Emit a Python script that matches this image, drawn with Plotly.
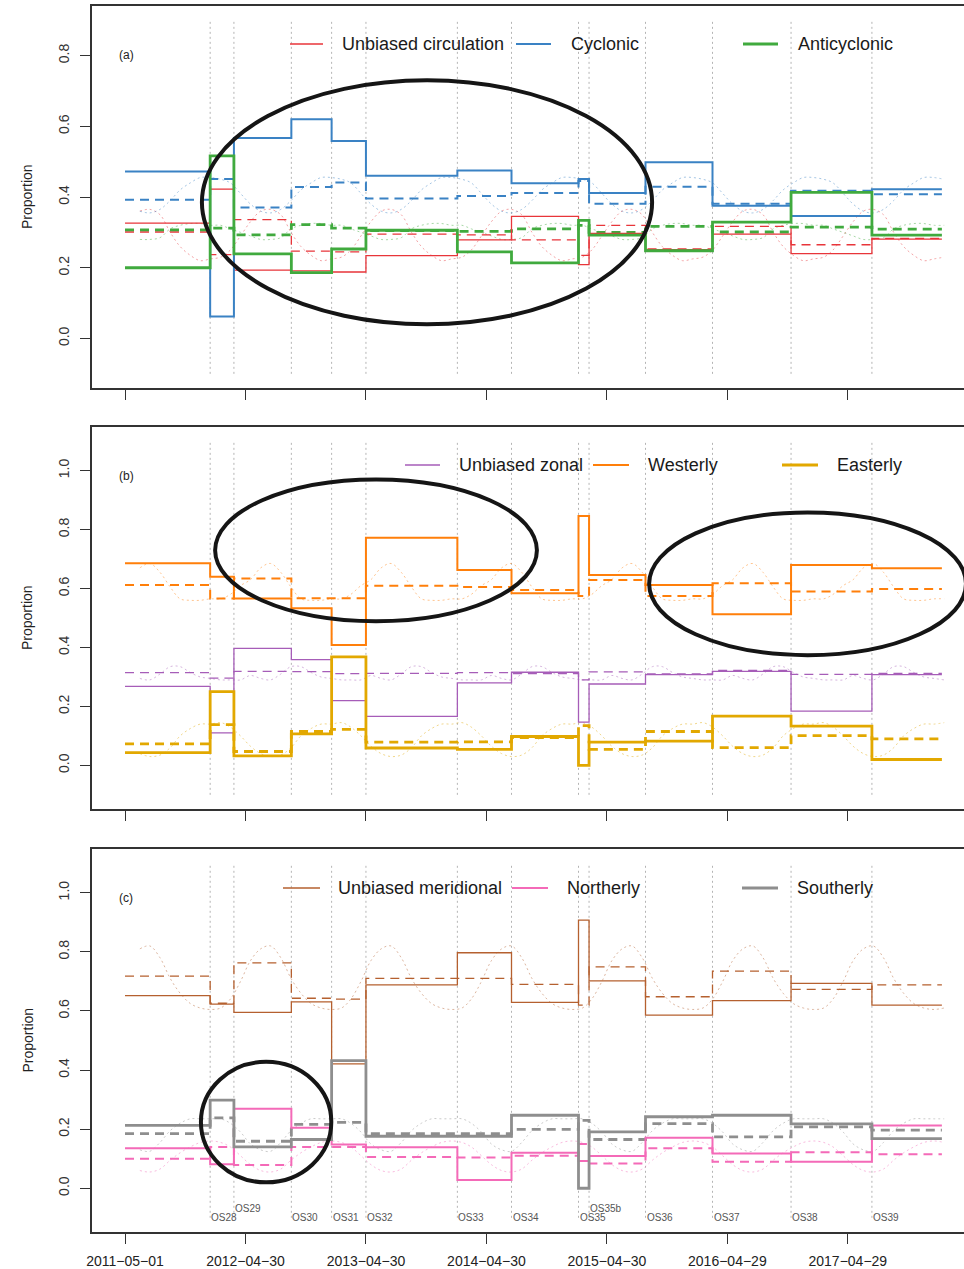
import plotly.graph_objects as go
import pandas as pd

FONT = "Liberation Sans, Arial, sans-serif"

# ---------------- data ----------------
period_start = ["2011-05-01", "2012-01-14", "2012-03-26", "2012-09-16", "2013-01-16",
                "2013-04-30", "2014-02-01", "2014-07-15", "2015-02-03", "2015-03-07",
                "2015-08-25", "2016-03-15", "2016-11-08", "2017-07-11"]
period_end = "2018-02-08"
os_labels = ["", "OS28", "OS29", "OS30", "OS31", "OS32", "OS33", "OS34", "OS35",
             "OS35b", "OS36", "OS37", "OS38", "OS39"]
os_raised = ["OS29", "OS35b"]

x_tick_dates = ["2011-05-01", "2012-04-30", "2013-04-30", "2014-04-30",
                "2015-04-30", "2016-04-29", "2017-04-29"]

# panel (a): observed proportions per period
unbiased_circ = [0.326, 0.422, 0.193, 0.191, 0.188, 0.234, 0.279, 0.345, 0.209, 0.297, 0.251, 0.295, 0.240, 0.281]
cyclonic = [0.472, 0.062, 0.567, 0.620, 0.558, 0.460, 0.475, 0.439, 0.451, 0.411, 0.498, 0.375, 0.346, 0.422]
anticyclonic = [0.200, 0.516, 0.239, 0.186, 0.253, 0.306, 0.245, 0.214, 0.334, 0.292, 0.248, 0.329, 0.413, 0.292]
# panel (a): expected (climatological) proportions per period
exp_unbiased_circ = [0.301, 0.237, 0.336, 0.247, 0.245, 0.295, 0.293, 0.279, 0.235, 0.320, 0.253, 0.317, 0.265, 0.283]
exp_cyclonic = [0.392, 0.451, 0.370, 0.428, 0.441, 0.396, 0.403, 0.411, 0.445, 0.381, 0.429, 0.381, 0.418, 0.408]
exp_anticyclonic = [0.307, 0.312, 0.293, 0.322, 0.312, 0.305, 0.303, 0.310, 0.320, 0.300, 0.317, 0.301, 0.315, 0.309]

# panel (b)
unbiased_zonal = [0.268, 0.110, 0.397, 0.359, 0.220, 0.166, 0.280, 0.316, 0.147, 0.276, 0.308, 0.319, 0.184, 0.308]
westerly = [0.686, 0.640, 0.566, 0.533, 0.408, 0.772, 0.663, 0.584, 0.846, 0.646, 0.612, 0.513, 0.680, 0.669]
easterly = [0.043, 0.250, 0.032, 0.107, 0.368, 0.059, 0.054, 0.098, 0.000, 0.079, 0.082, 0.167, 0.133, 0.020]
exp_unbiased_zonal = [0.315, 0.296, 0.319, 0.318, 0.311, 0.312, 0.315, 0.311, 0.290, 0.317, 0.310, 0.322, 0.309, 0.312]
exp_westerly = [0.612, 0.566, 0.634, 0.567, 0.567, 0.609, 0.605, 0.595, 0.575, 0.629, 0.575, 0.618, 0.590, 0.598]
exp_easterly = [0.073, 0.138, 0.047, 0.115, 0.122, 0.079, 0.080, 0.094, 0.135, 0.054, 0.115, 0.060, 0.101, 0.090]

# panel (c)
unbiased_merid = [0.652, 0.623, 0.595, 0.631, 0.421, 0.688, 0.797, 0.629, 0.907, 0.702, 0.586, 0.635, 0.693, 0.620]
northerly = [0.135, 0.081, 0.269, 0.205, 0.148, 0.139, 0.028, 0.120, 0.092, 0.109, 0.171, 0.118, 0.090, 0.212]
southerly = [0.213, 0.298, 0.140, 0.165, 0.432, 0.176, 0.176, 0.247, 0.000, 0.191, 0.242, 0.247, 0.218, 0.168]
exp_unbiased_merid = [0.718, 0.626, 0.763, 0.643, 0.640, 0.710, 0.710, 0.690, 0.620, 0.749, 0.648, 0.735, 0.673, 0.688]
exp_northerly = [0.100, 0.140, 0.079, 0.140, 0.140, 0.106, 0.104, 0.110, 0.150, 0.084, 0.135, 0.090, 0.122, 0.115]
exp_southerly = [0.185, 0.238, 0.159, 0.216, 0.223, 0.185, 0.185, 0.199, 0.230, 0.165, 0.219, 0.174, 0.208, 0.197]

# monthly climatology (Jan..Dec), repeated over the record as dotted curves
clim_unbiased_circ = [0.225, 0.230, 0.250, 0.290, 0.330, 0.360, 0.365, 0.350, 0.300, 0.260, 0.235, 0.220]
clim_cyclonic = [0.455, 0.450, 0.440, 0.410, 0.380, 0.360, 0.355, 0.365, 0.390, 0.420, 0.440, 0.455]
clim_anticyclonic = [0.320, 0.320, 0.310, 0.300, 0.290, 0.280, 0.280, 0.285, 0.310, 0.320, 0.325, 0.325]
clim_unbiased_zonal = [0.295, 0.290, 0.290, 0.290, 0.305, 0.295, 0.290, 0.310, 0.335, 0.335, 0.315, 0.300]
clim_westerly = [0.565, 0.565, 0.580, 0.610, 0.630, 0.670, 0.685, 0.655, 0.605, 0.565, 0.560, 0.560]
clim_easterly = [0.140, 0.145, 0.130, 0.100, 0.065, 0.040, 0.030, 0.035, 0.060, 0.100, 0.125, 0.140]
clim_unbiased_merid = [0.605, 0.610, 0.640, 0.700, 0.770, 0.810, 0.820, 0.780, 0.710, 0.660, 0.625, 0.610]
clim_northerly = [0.160, 0.155, 0.140, 0.110, 0.080, 0.060, 0.055, 0.065, 0.095, 0.120, 0.140, 0.155]
clim_southerly = [0.235, 0.235, 0.220, 0.190, 0.150, 0.130, 0.125, 0.155, 0.195, 0.220, 0.235, 0.235]

# highlight ellipses (annotation overlay): (x0, x1, y_bottom, y_top)
ellipses_a = [("2011-12-20", "2015-09-14", 0.04, 0.73)]
ellipses_b = [("2012-01-29", "2014-09-30", 0.489, 0.970),
              ("2015-09-05", "2018-04-22", 0.374, 0.858)]
ellipses_c = [("2011-12-17", "2013-01-15", 0.020, 0.428)]

# ---------------- styling ----------------
W, H = 964, 1269
ML, MR, MT, MB = 92, 0, 6, 37
PW, PH = W - ML - MR, H - MT - MB
X_RANGE = ["2011-01-21", "2018-04-16"]


def pyp(p):
    return 1 - (p - MT) / PH


def pxp(p):
    return (p - ML) / PW


panels = [
    dict(top=6, bottom=388, ylim=(-0.1, 0.9), yt=[0, 0.2, 0.4, 0.6, 0.8], tag="(a)",
         series=[("Unbiased circulation", unbiased_circ, exp_unbiased_circ, clim_unbiased_circ, "#E8353A", 1.3),
                 ("Cyclonic", cyclonic, exp_cyclonic, clim_cyclonic, "#3A82C4", 2.0),
                 ("Anticyclonic", anticyclonic, exp_anticyclonic, clim_anticyclonic, "#40AA3E", 2.8)],
         legend_y=44, legend_x=[(290, 323, 340), (516, 551, 569), (743, 778, 796)],
         ellipses=ellipses_a),
    dict(top=427, bottom=809, ylim=(-0.1, 1.1), yt=[0, 0.2, 0.4, 0.6, 0.8, 1.0], tag="(b)",
         series=[("Unbiased zonal", unbiased_zonal, exp_unbiased_zonal, clim_unbiased_zonal, "#A65DB8", 1.3),
                 ("Westerly", westerly, exp_westerly, clim_westerly, "#FF7F0A", 2.0),
                 ("Easterly", easterly, exp_easterly, clim_easterly, "#E2A800", 2.8)],
         legend_y=465, legend_x=[(405, 440, 457), (593, 629, 646), (782, 818, 835)],
         ellipses=ellipses_b),
    dict(top=849, bottom=1232, ylim=(-0.1, 1.1), yt=[0, 0.2, 0.4, 0.6, 0.8, 1.0], tag="(c)",
         series=[("Unbiased meridional", unbiased_merid, exp_unbiased_merid, clim_unbiased_merid, "#B5602F", 1.3),
                 ("Northerly", northerly, exp_northerly, clim_northerly, "#F46AB8", 2.0),
                 ("Southerly", southerly, exp_southerly, clim_southerly, "#8E8E8E", 2.8)],
         legend_y=888, legend_x=[(283, 320, 336), (512, 548, 565), (742, 778, 795)],
         ellipses=ellipses_c),
]

# monthly dates for climatology curves
month_dates = pd.date_range("2011-05-15", "2018-02-15", freq="MS") + pd.Timedelta(days=14)
month_dates = [d for d in month_dates if d <= pd.Timestamp("2018-02-18")]

step_x = period_start + [period_end]

fig = go.Figure()
shapes = []
annotations = []
layout = {}

for i, p in enumerate(panels):
    n = i + 1
    xa = "x" if n == 1 else f"x{n}"
    ya = "y" if n == 1 else f"y{n}"
    lo, hi = p["ylim"]
    ext = 0.04 * (hi - lo)

    # dotted climatology curves
    for name, obs, exp, clim, col, lw in p["series"]:
        cy = [clim[d.month - 1] for d in month_dates]
        fig.add_trace(go.Scatter(x=month_dates, y=cy, mode="lines", xaxis=xa, yaxis=ya,
                                 line=dict(color=col, width=1, dash="2px,3px", shape="spline", smoothing=1.0),
                                 opacity=0.45, showlegend=False, hoverinfo="skip"))
    # dashed expected steps
    for name, obs, exp, clim, col, lw in p["series"]:
        fig.add_trace(go.Scatter(x=step_x, y=exp + [exp[-1]], mode="lines", xaxis=xa, yaxis=ya,
                                 line=dict(color=col, width=lw, dash="9px,6px", shape="hv"),
                                 showlegend=False, hoverinfo="skip"))
    # solid observed steps
    for name, obs, exp, clim, col, lw in p["series"]:
        fig.add_trace(go.Scatter(x=step_x, y=obs + [obs[-1]], mode="lines", xaxis=xa, yaxis=ya,
                                 line=dict(color=col, width=lw, shape="hv"),
                                 name=name, showlegend=False))

    # vertical dotted boundaries
    for d in period_start[1:]:
        shapes.append(dict(type="line", xref=xa, yref=ya, x0=d, x1=d, y0=lo, y1=hi,
                           line=dict(color="#B4B4B4", width=1, dash="2px,3px"), layer="below"))

    # ellipses
    for (ex0, ex1, ey0, ey1) in p["ellipses"]:
        shapes.append(dict(type="circle", xref=xa, yref=ya, x0=ex0, x1=ex1, y0=ey0, y1=ey1,
                           line=dict(color="#151515", width=4)))

    # legend (drawn manually)
    for (name, obs, exp, clim, col, lw), (lx0, lx1, tx) in zip(p["series"], p["legend_x"]):
        shapes.append(dict(type="line", xref="paper", yref="paper",
                           x0=pxp(lx0), x1=pxp(lx1), y0=pyp(p["legend_y"]), y1=pyp(p["legend_y"]),
                           line=dict(color=col, width=lw)))
        annotations.append(dict(text=name, xref="paper", yref="paper", x=pxp(tx), y=pyp(p["legend_y"]),
                                xanchor="left", yanchor="middle", showarrow=False,
                                font=dict(family=FONT, size=18, color="#1a1a1a")))

    # panel tag
    annotations.append(dict(text=p["tag"], xref="paper", yref="paper", x=pxp(117),
                            y=pyp(p["top"] + 49), xanchor="left", yanchor="middle", showarrow=False,
                            font=dict(family=FONT, size=12, color="#222")))
    # y title
    annotations.append(dict(text="Proportion", xref="paper", yref="paper", x=pxp(27),
                            y=pyp((p["top"] + p["bottom"]) / 2), xanchor="center", yanchor="middle",
                            textangle=-90, showarrow=False,
                            font=dict(family=FONT, size=14, color="#222")))

    dom = [pyp(p["bottom"]), pyp(p["top"])]
    layout["xaxis" if n == 1 else f"xaxis{n}"] = dict(
        domain=[0, 1], anchor=ya, type="date", range=X_RANGE,
        tickvals=x_tick_dates,
        ticktext=[t.replace("-", "\u2212") for t in x_tick_dates],
        showticklabels=(n == 3), ticks="outside", ticklen=10, tickwidth=1.3, tickcolor="#333",
        showline=True, mirror=True, linecolor="#333", linewidth=1.5,
        showgrid=False, zeroline=False, automargin=False, ticklabelstandoff=5,
        tickfont=dict(family=FONT, size=14, color="#222"))
    layout["yaxis" if n == 1 else f"yaxis{n}"] = dict(
        domain=dom, anchor=xa, range=[lo - ext, hi + ext],
        tickvals=p["yt"], ticktext=[f"{v:.1f}" for v in p["yt"]], tickangle=-90,
        ticks="outside", ticklen=10, tickwidth=1.3, tickcolor="#333",
        showline=True, mirror=False, linecolor="#333", linewidth=1.5,
        showgrid=False, zeroline=False, automargin=False, ticklabelstandoff=6,
        tickfont=dict(family=FONT, size=14, color="#333"))

# OS labels in panel (c)
for d, lab in zip(period_start, os_labels):
    if not lab:
        continue
    annotations.append(dict(text=lab, xref="x3", yref="y3", x=d,
                            y=-0.067 if lab in os_raised else -0.098,
                            xanchor="left", yanchor="middle", showarrow=False, xshift=-1,
                            font=dict(family=FONT, size=10, color="#555")))

fig.update_layout(width=W, height=H, margin=dict(l=ML, r=MR, t=MT, b=MB),
                  paper_bgcolor="white", plot_bgcolor="white", showlegend=False,
                  shapes=shapes, annotations=annotations, **layout)

fig.write_html("out.html", config={"displayModeBar": False},
               post_script="document.body.style.margin='0px';document.body.style.padding='0px';")
